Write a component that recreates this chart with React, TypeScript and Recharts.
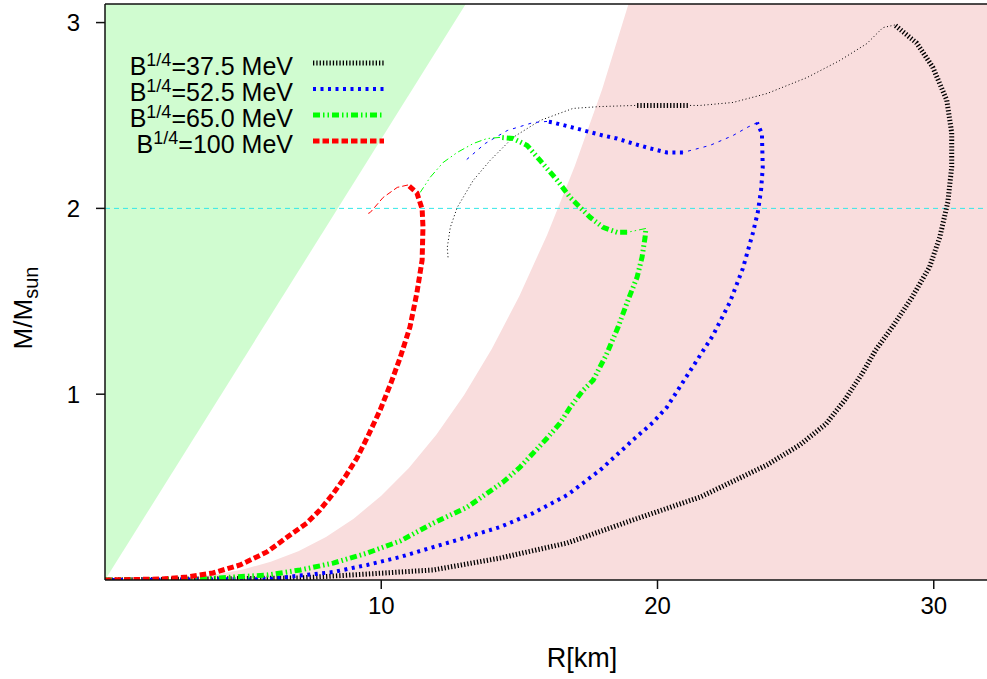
import { ComposedChart, Line, Area, XAxis, YAxis, ReferenceLine } from "recharts";

const xTicks = [10, 20, 30];
const yTicks = [1, 2, 3];
const yMax = 3.1;

// region edges, [R, M]
const causalEdge = [[0, 0], [13.06, 3.1]];
const pinkEdge = [
  [3.0, 0.012], [4.0, 0.029], [5.0, 0.057], [6.0, 0.098], [7.0, 0.155], [8.0, 0.232],
  [9.0, 0.33], [10.0, 0.453], [11.0, 0.603], [12.0, 0.783], [13.0, 0.995], [14.0, 1.243],
  [15.0, 1.529], [16.0, 1.856], [17.0, 2.226], [18.0, 2.642], [18.95, 3.1], [32, 3.1],
];

// B^1/4 = 37.5 MeV
const black1 = [
  [0, 0], [7.07, 0.011], [9.49, 0.032], [11.88, 0.054], [14.3, 0.118], [16.73, 0.199],
  [19.11, 0.323], [21.54, 0.446], [23.96, 0.619], [25.15, 0.727], [26.1, 0.84],
  [26.78, 0.969], [27.4, 1.109], [27.9, 1.238], [28.55, 1.372], [29.2, 1.518],
  [29.85, 1.685], [30.22, 1.846], [30.51, 2.034], [30.65, 2.223], [30.65, 2.406],
  [30.47, 2.583], [29.96, 2.761], [29.38, 2.89], [28.59, 2.987],
];
const black1u = [
  [28.59, 2.987], [28.16, 2.973], [27.58, 2.887], [26.6, 2.796], [25.41, 2.704],
  [23.96, 2.618], [22.73, 2.57], [21.54, 2.554], [21.1, 2.554],
];
const black2 = [[21.1, 2.554], [20.92, 2.554], [19.19, 2.554]];
const black2u = [
  [19.19, 2.554], [17.92, 2.548], [16.94, 2.538], [15.75, 2.473], [14.77, 2.382],
  [13.94, 2.258], [13.33, 2.151], [12.75, 2.005], [12.5, 1.898], [12.39, 1.79], [12.42, 1.731],
];

// B^1/4 = 52.5 MeV
const blue1 = [
  [0, 0], [5.88, 0.005], [8.26, 0.043], [9.49, 0.081], [10.69, 0.124], [11.88, 0.177],
  [13.11, 0.231], [14.3, 0.285], [15.5, 0.36], [16.73, 0.457], [17.92, 0.591],
  [19.11, 0.753], [19.84, 0.849], [20.34, 0.93], [20.92, 1.065], [21.43, 1.183],
  [22.01, 1.317], [22.62, 1.495], [23.09, 1.677], [23.45, 1.866], [23.63, 1.978],
  [23.75, 2.1], [23.81, 2.22], [23.78, 2.403], [23.6, 2.462],
];
const blue1u = [[23.6, 2.462], [23.24, 2.435], [22.73, 2.392], [21.9, 2.339], [20.92, 2.301]];
const blue2 = [
  [20.92, 2.301], [20.34, 2.301], [19.73, 2.323], [19.11, 2.349], [18.53, 2.376],
  [18.03, 2.392], [16.94, 2.435], [16.22, 2.462], [16.0, 2.468],
];
const blue2u = [[16.0, 2.468], [15.5, 2.462], [14.56, 2.419], [13.76, 2.349], [12.97, 2.247]];

// B^1/4 = 65.0 MeV
const green1 = [
  [0, 0], [3.45, 0.005], [5.88, 0.027], [7.07, 0.054], [8.26, 0.091], [9.49, 0.145],
  [10.69, 0.21], [11.88, 0.306], [13.11, 0.392], [14.41, 0.527], [15.03, 0.608],
  [15.5, 0.683], [16.0, 0.763], [16.47, 0.844], [16.84, 0.93], [17.3, 1.02],
  [17.67, 1.075], [18.14, 1.21], [18.57, 1.36], [18.93, 1.505], [19.26, 1.629],
  [19.44, 1.737], [19.55, 1.844], [19.58, 1.892],
];
const green1u = [[19.58, 1.892], [19.26, 1.882], [18.9, 1.871]];
const green2 = [
  [18.9, 1.871], [18.54, 1.871], [18.03, 1.898], [17.56, 1.952], [17.2, 2.005],
  [16.84, 2.059], [16.37, 2.151], [15.75, 2.258], [15.28, 2.339], [14.77, 2.376], [14.3, 2.382],
];
const green2u = [
  [14.3, 2.382], [13.83, 2.376], [13.33, 2.349], [12.75, 2.301], [12.24, 2.247],
  [11.77, 2.167], [11.41, 2.086],
];

// B^1/4 = 100 MeV
const red1 = [
  [0, 0], [1.99, 0.005], [2.97, 0.016], [3.91, 0.038], [4.89, 0.081], [5.86, 0.151],
  [6.8, 0.253], [7.31, 0.307], [7.78, 0.377], [8.25, 0.463], [8.69, 0.554], [9.12, 0.656],
  [9.52, 0.775], [9.96, 0.915], [10.35, 1.06], [10.68, 1.195], [11.04, 1.362],
  [11.29, 1.545], [11.48, 1.722], [11.51, 1.9], [11.48, 1.997], [11.29, 2.083], [10.97, 2.126],
];
const red1u = [[10.97, 2.126], [10.58, 2.113], [10.07, 2.059], [9.6, 1.978], [9.53, 1.973]];

const pts = (a: number[][]) => a.map(([r, m]) => ({ r, m }));

const FONT = '"Liberation Sans", Arial, Helvetica, sans-serif';

const series = [
  { label: "37.5 MeV", color: "#000000", dash: "1.3 2", thin: "1 2.5", w: 5, parts: [black1, black2], unstable: [black1u, black2u] },
  { label: "52.5 MeV", color: "#0000ff", dash: "3 4.5", thin: "3 5", w: 4, parts: [blue1, blue2], unstable: [blue1u, blue2u] },
  { label: "65.0 MeV", color: "#00ff00", dash: "7 3 1.5 3 1.5 3", thin: "7 3 1.5 3 1.5 3", w: 5, parts: [green1, green2], unstable: [green1u, green2u] },
  { label: "100 MeV", color: "#ff0000", dash: "6.5 3", thin: "6 3", w: 5, parts: [red1], unstable: [red1u] },
];

const legendRows = [63, 89, 115, 141];

const causalData = causalEdge.map(([r, m]) => ({ r, lo: m, hi: yMax }));

const axisProps = {
  stroke: "#111",
  strokeWidth: 1.5,
  tickSize: 9,
};

export default function App() {
  return (
    <div style={{ position: "absolute", left: 0, top: 0, width: 987, height: 679, overflow: "hidden", background: "#fff", fontFamily: FONT }}>
      <ComposedChart width={1000} height={679} margin={{ top: 3, right: 11, bottom: 59, left: 45 }}>
        <XAxis
          {...axisProps}
          dataKey="r"
          type="number"
          domain={[0, 32]}
          allowDataOverflow
          ticks={xTicks}
          height={40}
          tickMargin={8}
          tick={{ fill: "#000", fontSize: 24, fontFamily: FONT }}
        />
        <XAxis
          {...axisProps}
          xAxisId="top"
          orientation="top"
          dataKey="r"
          type="number"
          domain={[0, 32]}
          allowDataOverflow
          ticks={xTicks}
          height={1}
          tick={false}
        />
        <YAxis
          {...axisProps}
          type="number"
          domain={[0, yMax]}
          allowDataOverflow
          ticks={yTicks}
          width={60}
          tickMargin={16}
          tick={{ fill: "#000", fontSize: 24, fontFamily: FONT }}
        />
        <Area
          data={causalData}
          dataKey={(d: any) => [d.lo, d.hi]}
          type="linear"
          stroke="none"
          fill="#d0fcd0"
          fillOpacity={1}
          isAnimationActive={false}
        />
        <Area
          data={pts(pinkEdge)}
          dataKey="m"
          type="linear"
          stroke="none"
          fill="#f9dddd"
          fillOpacity={1}
          isAnimationActive={false}
        />
        <ReferenceLine y={2} stroke="#33e8e8" strokeDasharray="5 4" strokeWidth={1} />
        {series.map((s, i) =>
          s.unstable.map((u, j) => (
            <Line
              key={`u${i}${j}`}
              data={pts(u)}
              dataKey="m"
              type="linear"
              stroke={s.color}
              strokeWidth={1}
              strokeDasharray={s.thin}
              dot={false}
              activeDot={false}
              isAnimationActive={false}
            />
          ))
        )}
        {series.map((s, i) =>
          s.parts.map((p, j) => (
            <Line
              key={`s${i}${j}`}
              data={pts(p)}
              dataKey="m"
              type="linear"
              stroke={s.color}
              strokeWidth={s.w}
              strokeDasharray={s.dash}
              dot={false}
              activeDot={false}
              isAnimationActive={false}
            />
          ))
        )}
      </ComposedChart>

      {series.map((s, i) => (
        <div key={s.label}>
          <div
            style={{
              position: "absolute",
              left: 0,
              width: 293,
              top: legendRows[i] - 6,
              height: 18,
              lineHeight: "18px",
              textAlign: "right",
              fontSize: 25,
              color: "#000",
              whiteSpace: "nowrap",
            }}
          >
            B
            <span style={{ fontSize: 18, position: "relative", top: -9, lineHeight: "12px", display: "inline-block" }}>1/4</span>
            ={s.label}
          </div>
          <svg style={{ position: "absolute", left: 313, top: legendRows[i] - 5 }} width={72} height={10}>
            <line x1={0} y1={5} x2={71} y2={5} stroke={s.color} strokeWidth={s.w} strokeDasharray={s.dash} />
          </svg>
        </div>
      ))}

      <div style={{ position: "absolute", left: 582, top: 658, transform: "translate(-50%, -50%)", fontSize: 27, whiteSpace: "nowrap" }}>
        R[km]
      </div>
      <div
        style={{
          position: "absolute",
          left: 23,
          top: 308,
          transform: "translate(-50%, -50%) rotate(-90deg)",
          fontSize: 26,
          whiteSpace: "nowrap",
        }}
      >
        M/M<span style={{ fontSize: 20, position: "relative", top: 6 }}>sun</span>
      </div>
    </div>
  );
}
